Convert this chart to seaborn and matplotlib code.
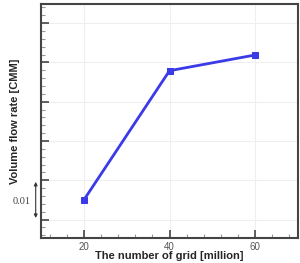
import matplotlib
matplotlib.use("Agg")
import matplotlib.pyplot as plt
import seaborn as sns
import pandas as pd
from matplotlib.ticker import AutoMinorLocator, MultipleLocator, NullFormatter

grid_million = [20, 40, 60]
flow_rate = [0.105, 0.1379, 0.1419]
x_ticks = [20, 40, 60]

df = pd.DataFrame({"grid": grid_million, "flow": flow_rate})

sns.set_style("white")
plt.rcParams['font.family'] = ['Liberation Sans', 'DejaVu Sans']

fig = plt.figure(figsize=(3.0, 2.63), dpi=100)
ax = fig.add_axes([0.137, 0.095, 0.856, 0.89])

sns.lineplot(data=df, x="grid", y="flow", ax=ax, color="#3a3ae8", lw=2.0,
             marker="s", markersize=5, markeredgecolor="#3a3ae8", zorder=3)

ax.set_xlim(10, 70)
ax.set_ylim(0.0953, 0.1549)
ax.set_xticks(x_ticks)
ax.xaxis.set_minor_locator(AutoMinorLocator(5))
ax.yaxis.set_major_locator(MultipleLocator(0.01))
ax.yaxis.set_minor_locator(AutoMinorLocator(5))
ax.yaxis.set_major_formatter(NullFormatter())
ax.grid(True, which="major", color="#efefef", lw=0.8)
ax.set_axisbelow(True)

ax.tick_params(axis="both", which="both", bottom=True, left=True, top=False, right=False)
ax.tick_params(axis="both", which="major", direction="in", length=6, width=1.2,
               color="#444444", labelsize=7, labelcolor="#555555", pad=3)
ax.tick_params(axis="both", which="minor", direction="in", length=3, width=0.8,
               color="#999999")
for s in ax.spines.values():
    s.set_color("#444444")
    s.set_linewidth(1.5)

ax.set_xlabel("The number of grid [million]", fontsize=8, fontweight="bold", labelpad=-1)
ax.set_ylabel("Volume flow rate [CMM]", fontsize=8, fontweight="bold", labelpad=12)

ax.annotate("", xy=(0.119, 0.1004), xytext=(0.119, 0.1096),
            xycoords=("figure fraction", "data"), textcoords=("figure fraction", "data"),
            arrowprops=dict(arrowstyle="<|-|>", color="#333333", lw=0.8,
                            mutation_scale=5, shrinkA=0, shrinkB=0),
            annotation_clip=False)
fig.text(0.073, 1 - 201 / 263, "0.01", fontsize=7.5, family=["Liberation Serif", "DejaVu Serif"],
         color="#444444", ha="center", va="center")

fig.savefig("out.png", dpi=100)
